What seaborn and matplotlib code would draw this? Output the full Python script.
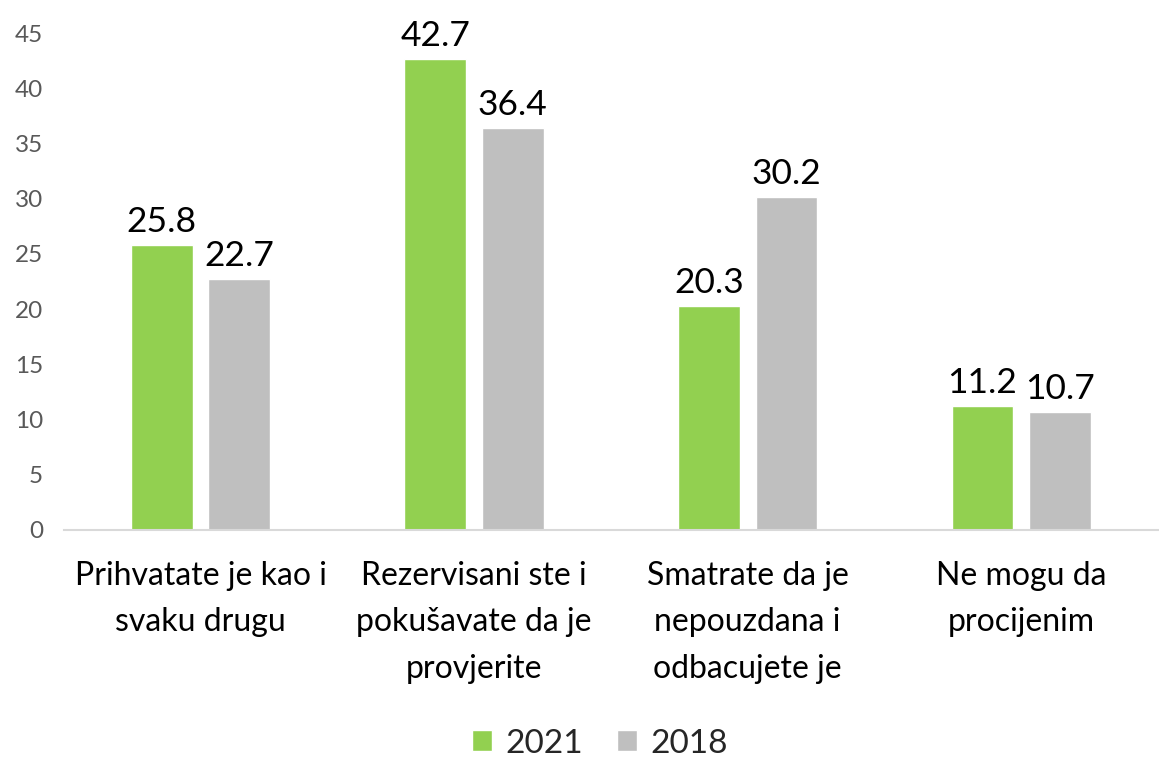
"""
Grouped bar chart: 2021 vs 2018 responses.
"""

import matplotlib
matplotlib.use("Agg")
import matplotlib.pyplot as plt
import seaborn as sns
import pandas as pd

categories = [
    "Prihvatate je kao i\nsvaku drugu",
    "Rezervisani ste i\npokušavate da je\nprovjerite",
    "Smatrate da je\nnepouzdana i\nodbacujete je",
    "Ne mogu da\nprocijenim",
]
values_2021 = [25.8, 42.7, 20.3, 11.2]
values_2018 = [22.7, 36.4, 30.2, 10.7]
years = ["2021", "2018"]
colors = ["#92D050", "#BFBFBF"]

df = pd.DataFrame({
    "category": categories * 2,
    "value": values_2021 + values_2018,
    "year": [years[0]] * len(categories) + [years[1]] * len(categories),
})

sns.set_style("white")
plt.rcParams["font.family"] = ["Lato", "DejaVu Sans"]

fig = plt.figure(figsize=(11.59, 7.62), dpi=100)
ax = fig.add_axes([0.055, 0.3045, 0.944, 0.652])

sns.barplot(data=df, x="category", y="value", hue="year", palette=colors,
            width=0.567, gap=0.206, ax=ax, saturation=1)

for container in ax.containers:
    ax.bar_label(container, fmt="%.1f", fontsize=25.5, padding=5, color="black")

ax.set_ylim(0, 45)
ax.set_yticks(range(0, 50, 5))
ax.set_xlabel("")
ax.set_ylabel("")
ax.tick_params(axis="y", labelsize=17.5, labelcolor="#595959", length=0, pad=15)
ax.tick_params(axis="x", labelsize=23, labelcolor="black", length=0, pad=22)
for lbl in ax.get_xticklabels():
    lbl.set_linespacing(1.7)

for side in ["top", "right", "left"]:
    ax.spines[side].set_visible(False)
ax.spines["bottom"].set_color("#D9D9D9")
ax.spines["bottom"].set_linewidth(1.5)

ax.legend(loc="center", bbox_to_anchor=(0.49, -0.43), ncol=2, frameon=False,
          fontsize=24, handlelength=0.6, handleheight=0.6, handletextpad=0.4,
          columnspacing=1.0)

fig.savefig("out.png", dpi=100)
